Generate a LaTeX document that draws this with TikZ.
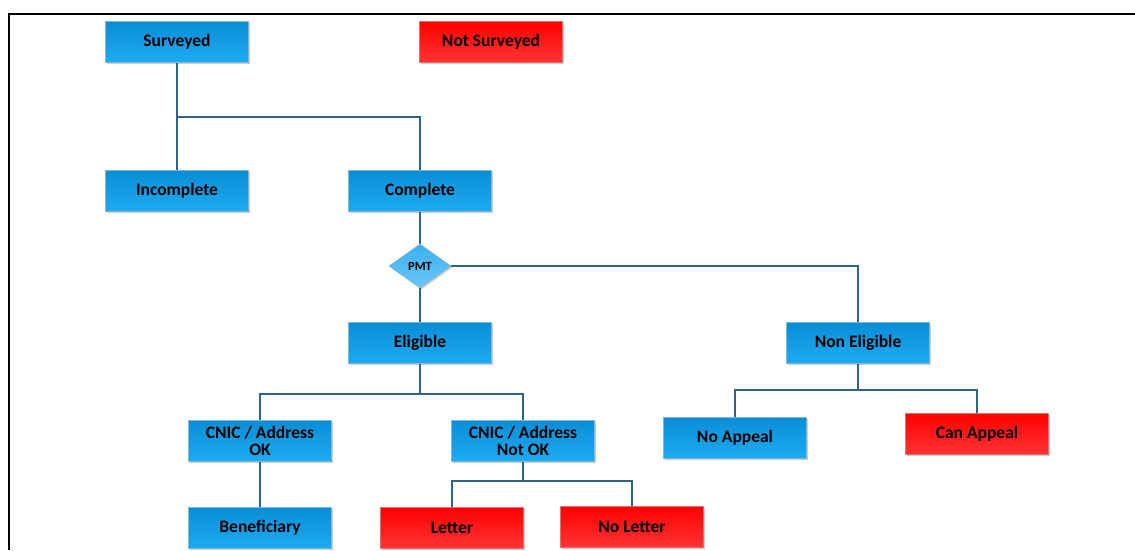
\documentclass[tikz,border=0pt]{standalone}
\usepackage{fontspec}
\setmainfont{Carlito}
\usetikzlibrary{shapes.geometric,shadows}
\definecolor{bluetop}{HTML}{0A8ED6}
\definecolor{bluebot}{HTML}{1EABF2}
\definecolor{redtop}{HTML}{FF0000}
\definecolor{redbot}{HTML}{FF3535}
\definecolor{boxedge}{HTML}{7FB8D8}
\definecolor{rededge}{HTML}{E07070}
\definecolor{linec}{HTML}{2F6385}
\definecolor{dtop}{HTML}{3AB0F2}
\definecolor{dbot}{HTML}{6CC6F8}
\begin{document}
\begin{tikzpicture}[x=1pt,y=1pt,
  box/.style={draw=boxedge, line width=0.6pt, minimum width=143pt, minimum height=41pt,
    top color=bluetop, bottom color=bluebot, text=black,
    font=\bfseries\fontsize{17.5}{17.5}\selectfont, align=center, inner sep=0pt,
    drop shadow={shadow xshift=1.5pt, shadow yshift=-1.5pt, fill=black!40, opacity=0.5}},
  redbox/.style={box, draw=rededge, top color=redtop, bottom color=redbot},
  conn/.style={draw=linec, line width=2.6pt}]
\useasboundingbox (0,0) rectangle (1135,-550);
\draw[line width=2.5pt] (9,-550) -- (9,-14) -- (1135,-14);

\node[box] (surv) at (177,-42) {Surveyed};
\node[redbox] (nsurv) at (491,-42) {Not Surveyed};
\node[box] (inc) at (177,-191) {Incomplete};
\node[box] (comp) at (420,-191) {Complete};
\node[diamond, draw=boxedge, line width=0.6pt, top color=dtop, bottom color=dbot,
  minimum width=62pt, minimum height=44pt, inner sep=0pt,
  font=\bfseries\fontsize{12.5}{14}\selectfont,
  drop shadow={shadow xshift=1.5pt, shadow yshift=-1.5pt, fill=black!40, opacity=0.5}] (pmt) at (420,-266) {PMT};
\node[box] (el) at (420,-343) {Eligible};
\node[box] (nel) at (858,-343) {Non Eligible};
\node[box] (cok) at (260,-441) {CNIC / Address\\OK};
\node[box] (cnok) at (523,-441) {CNIC / Address\\Not OK};
\node[box] (noap) at (735,-438) {No Appeal};
\node[redbox] (canap) at (977,-434) {Can Appeal};
\node[box] (ben) at (260,-528) {Beneficiary};
\node[redbox] (let) at (452,-528) {Letter};
\node[redbox] (nolet) at (632,-527) {No Letter};

\coordinate (j1) at (177,-117);
\coordinate (j2) at (420,-394);
\coordinate (j3) at (858,-390);
\coordinate (j4) at (523,-481);

\draw[conn] (surv.south) -- (j1) -- (inc.north);
\draw[conn] (j1) -| (comp.north);
\draw[conn] (comp.south) -- (pmt.north);
\draw[conn] (pmt.south) -- (el.north);
\draw[conn] (pmt.east) -| (nel.north);
\draw[conn] (el.south) -- (j2);
\draw[conn] (j2) -| (cok.north);
\draw[conn] (j2) -| (cnok.north);
\draw[conn] (nel.south) -- (j3);
\draw[conn] (j3) -| (noap.north);
\draw[conn] (j3) -| (canap.north);
\draw[conn] (cok.south) -- (ben.north);
\draw[conn] (cnok.south) -- (j4);
\draw[conn] (j4) -| (let.north);
\draw[conn] (j4) -| (nolet.north);
\end{tikzpicture}
\end{document}
